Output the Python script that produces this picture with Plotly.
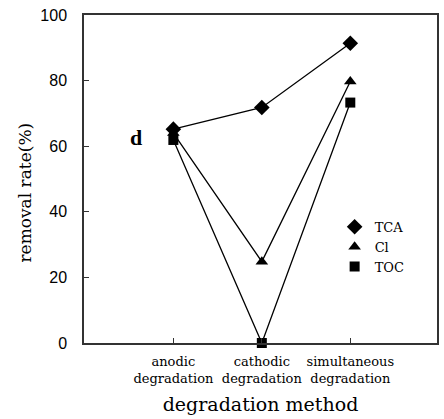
import plotly.graph_objects as go

categories = ["anodic<br>degradation", "cathodic<br>degradation", "simultaneous<br>degradation"]
tca = [65.2, 71.8, 91.4]
cl = [64.0, 24.8, 79.7]
toc = [61.9, 0.0, 73.3]
yticks = [0, 20, 40, 60, 80, 100]

serif = "DejaVu Serif"
sans = "Liberation Sans"
fig = go.Figure()
series = [("TCA", tca, "diamond", 12), ("Cl", cl, "triangle-up", 11), ("TOC", toc, "square", 10)]
for name, vals, sym, sz in series:
    fig.add_trace(go.Scatter(x=categories, y=vals, mode="lines+markers", name=name,
                             line=dict(color="black", width=1.3),
                             marker=dict(symbol=sym, size=sz, color="black"),
                             showlegend=False, cliponaxis=False))
for name, vals, sym, sz in series:
    fig.add_trace(go.Scatter(x=[None], y=[None], mode="markers", name=name,
                             marker=dict(symbol=sym, size=sz, color="black"),
                             showlegend=True))

fig.update_layout(
    width=444, height=419,
    margin=dict(l=84, r=5, t=15, b=76),
    paper_bgcolor="white", plot_bgcolor="white",
    font=dict(family=serif, color="black", size=14),
    xaxis=dict(type="category", range=[-1.01, 2.98], tickvals=categories, ticktext=categories,
               ticks="inside", ticklen=5, tickcolor="#333", showline=True, linecolor="#333",
               linewidth=1.5, mirror=True, showgrid=False, zeroline=False,
               tickfont=dict(size=13, family=serif), ticklabelstandoff=6,
               title=dict(text="degradation method", font=dict(size=19, family=serif), standoff=12)),
    yaxis=dict(range=[0, 100], tickvals=yticks, ticks="inside", ticklen=5, tickcolor="#333",
               showline=True, linecolor="#333", linewidth=1.5, mirror=True, showgrid=False,
               zeroline=False, tickfont=dict(size=16, family=sans), ticklabelstandoff=12),
    legend=dict(x=0.71, y=0.40, xanchor="left", yanchor="top", bgcolor="rgba(0,0,0,0)",
                font=dict(size=13, family=serif), itemwidth=30, tracegroupgap=0),
    annotations=[
        dict(text="<b>d</b>", x=0.148, y=0.67, xref="paper", yref="paper",
             xanchor="center", showarrow=False, font=dict(size=22, family="Liberation Serif")),
        dict(text="removal rate(%)", x=-0.166, y=0.46, xref="paper", yref="paper",
             xanchor="center", yanchor="middle", textangle=-90, showarrow=False,
             font=dict(size=17, family=serif)),
    ],
)
fig.write_html("out.html")
